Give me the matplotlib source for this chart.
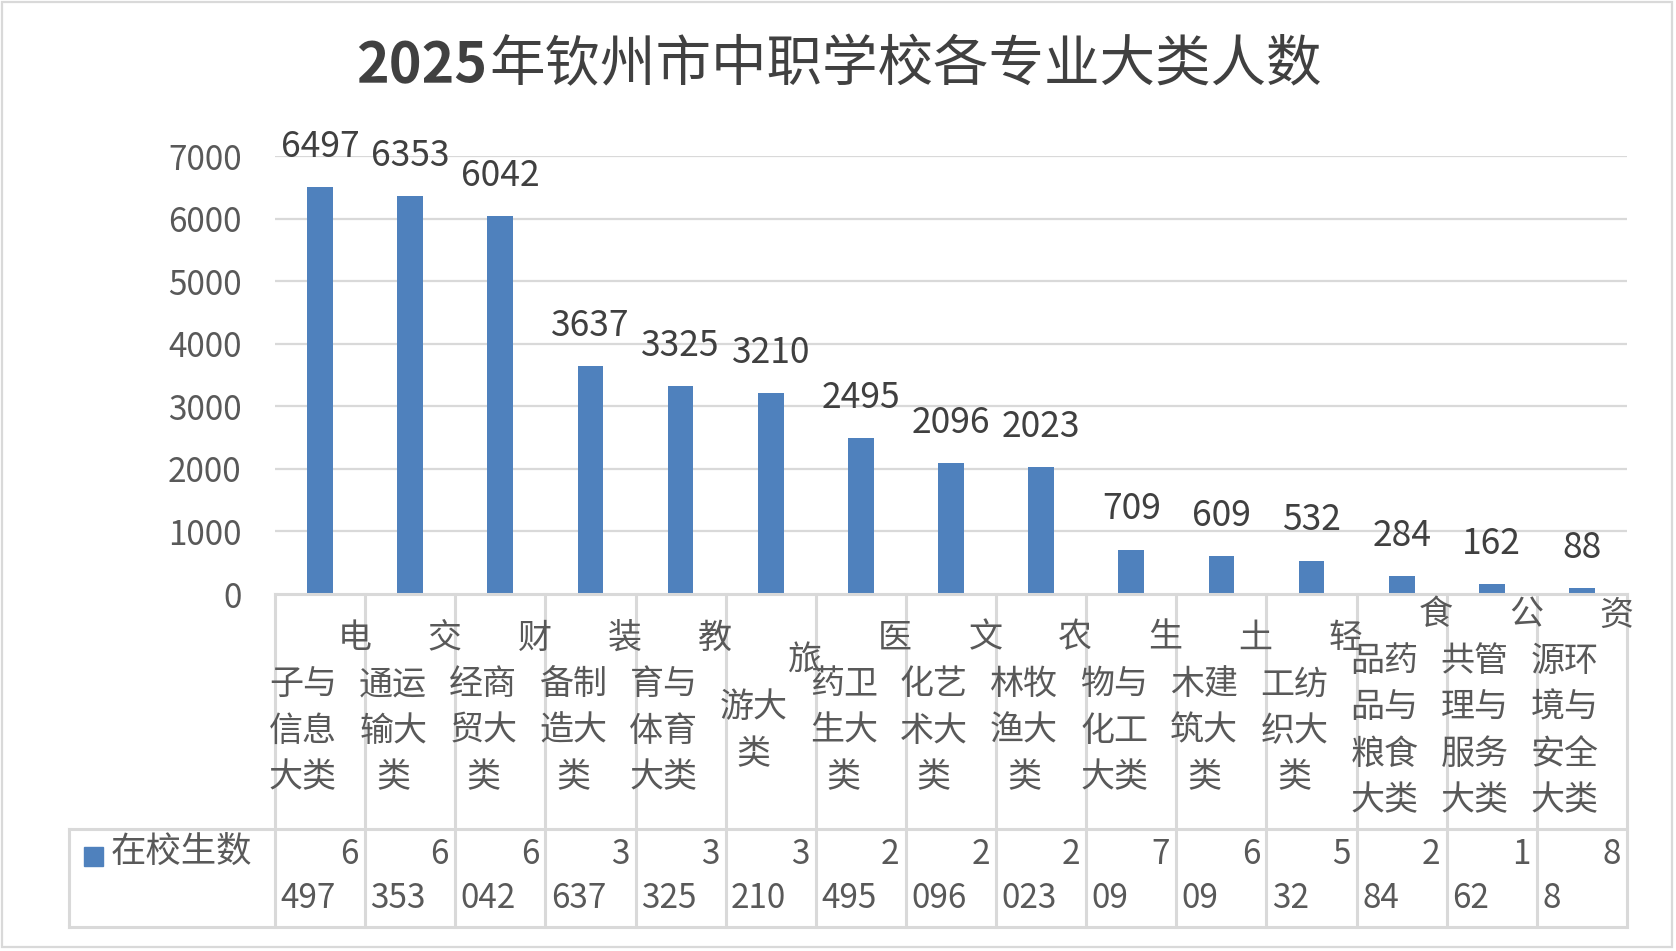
import matplotlib
matplotlib.use("Agg")
import matplotlib.pyplot as plt
from matplotlib.patches import Rectangle

plt.rcParams['font.family'] = ['Noto Sans CJK SC', 'DejaVu Sans']

categories = ["电子与信息大类", "交通运输大类", "财经商贸大类", "装备制造大类",
              "教育与体育大类", "旅游大类", "医药卫生大类", "文化艺术大类",
              "农林牧渔大类", "生物与化工大类", "土木建筑大类", "轻工纺织大类",
              "食品药品与粮食大类", "公共管理与服务大类", "资源环境与安全大类"]
students = [6497, 6353, 6042, 3637, 3325, 3210, 2495, 2096, 2023,
            709, 609, 532, 284, 162, 88]
series_name = "在校生数"
title_year = "2025"
title_rest = "年钦州市中职学校各专业大类人数"
yticks = [0, 1000, 2000, 3000, 4000, 5000, 6000, 7000]

W, H = 1676, 951
BAR = "#4F81BD"
GRID = "#D9D9D9"
TXT = "#595959"

fig = plt.figure(figsize=(W / 100, H / 100), dpi=100)

# plot area in pixels
left, right, top, bottom = 275, 1627, 156, 594
tab_bottom = 927
leg_left = 69
mid_line = 829

ax = fig.add_axes([left / W, 1 - bottom / H, (right - left) / W, (bottom - top) / H])
x = list(range(len(categories)))
ax.bar(x, students, width=0.285, color=BAR, zorder=3)
ax.set_xlim(-0.5, len(categories) - 0.5)
ax.set_ylim(0, 7000)
ax.set_yticks(yticks)
ax.set_yticklabels([str(t) for t in yticks], fontsize=24, color=TXT)
ax.tick_params(axis="y", length=0, pad=24)
ax.set_xticks([])
for t in yticks[1:]:
    ax.axhline(t, color=GRID, lw=1.6, zorder=1)
for s in ax.spines.values():
    s.set_visible(False)

for xi, v in zip(x, students):
    ax.annotate(str(v), (xi, v), xytext=(0, 29), textcoords="offset points",
                ha="center", va="center", fontsize=25.5, color="#404040")

# title: bold digits, plainer CJK like the original
ty = fig.text(356 / W, 1 - 66 / H, title_year, ha="left", va="center",
              fontsize=40, fontweight="bold", color="#404040")
ax.annotate(title_rest, xy=(1, 0.5), xycoords=ty, xytext=(2, 0),
            textcoords="offset points", ha="left", va="center",
            fontsize=40, fontweight="medium", color="#404040",
            annotation_clip=False)

# data table
tab = fig.add_axes([left / W, 1 - tab_bottom / H, (right - left) / W, (tab_bottom - bottom) / H])
tab.set_xlim(-0.5, len(categories) - 0.5)
tab.set_ylim(tab_bottom, bottom)
tab.axis("off")
colw = (right - left) / len(categories)
xleg = -0.5 - (left - leg_left) / colw
lw_t = 2.2
tab.plot([-0.5, len(categories) - 0.5], [bottom, bottom], color=GRID, lw=lw_t, clip_on=False)
tab.plot([xleg, len(categories) - 0.5], [mid_line, mid_line], color=GRID, lw=lw_t, clip_on=False)
tab.plot([xleg, len(categories) - 0.5], [tab_bottom, tab_bottom], color=GRID, lw=lw_t, clip_on=False)
tab.plot([xleg, xleg], [mid_line, tab_bottom], color=GRID, lw=lw_t, clip_on=False)
for i in range(len(categories) + 1):
    tab.plot([i - 0.5, i - 0.5], [bottom, tab_bottom], color=GRID, lw=lw_t, clip_on=False)

# wrapped category labels: first char alone, then pairs
line_h = 46.5
center_y = 708
for i, name in enumerate(categories):
    lines = [name[0]] + [name[k:k + 2] for k in range(1, len(name), 2)]
    n = len(lines)
    y0 = center_y - (n - 1) * line_h / 2
    for j, ln in enumerate(lines):
        xo = i + 0.38 if j == 0 else i - 0.19
        tab.text(xo, y0 + j * line_h, ln, ha="center", va="center",
                 fontsize=24.5, color=TXT, clip_on=False)

for i, v in enumerate(students):
    s = str(v)
    tab.text(i + 0.43, 855, s[0], ha="right", va="center", fontsize=24, color=TXT)
    tab.text(i - 0.44, 898, s[1:], ha="left", va="center", fontsize=24, color=TXT)

# legend key inside table
tab.add_patch(Rectangle((xleg + (84 - leg_left) / colw, 866), 19 / colw, -19,
                        color=BAR, clip_on=False))
tab.text(xleg + (111 - leg_left) / colw, 852, series_name, ha="left", va="center",
         fontsize=25.5, color=TXT, clip_on=False)

# chart border
fig.add_artist(Rectangle((2 / W, 1 - 947 / H), 1670 / W, 945 / H, fill=False,
                         edgecolor=GRID, lw=1.6, transform=fig.transFigure))

fig.savefig("out.png", dpi=100)
